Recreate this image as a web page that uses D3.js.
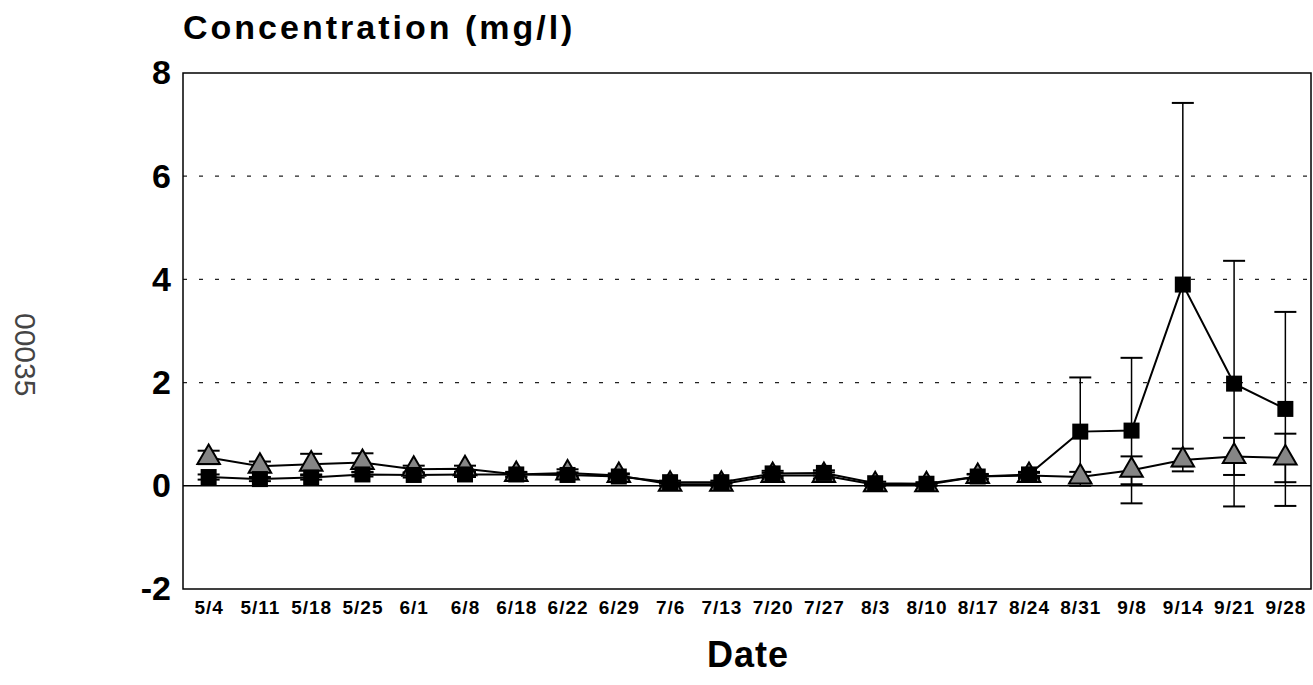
<!DOCTYPE html>
<html>
<head>
<meta charset="utf-8">
<script src="https://cdn.jsdelivr.net/npm/d3@7/dist/d3.min.js"></script>
<style>
  body { margin: 0; background: #fff; }
  text { font-family: "Liberation Sans", Arial, sans-serif; }
</style>
</head>
<body>
<script>
var w = 1313
var h = 685

// dates on the x axis
var dates = ["5/4","5/11","5/18","5/25","6/1","6/8","6/18","6/22","6/29","7/6","7/13",
  "7/20","7/27","8/3","8/10","8/17","8/24","8/31","9/8","9/14","9/21","9/28"];

// square series (mean, sd)
var sqMean = [0.17,0.13,0.16,0.22,0.21,0.22,0.22,0.21,0.18,0.07,0.07,
  0.24,0.25,0.05,0.04,0.18,0.22,1.05,1.07,3.90,1.98,1.49];
var sqSd = [0.05,0.04,0.04,0.04,0.05,0.05,0.04,0.05,0.04,0.03,0.03,
  0.05,0.05,0.03,0.03,0.05,0.05,1.05,1.41,3.52,2.38,1.88];

// triangle series (mean, sd)
var triMean = [0.55,0.38,0.42,0.45,0.32,0.33,0.22,0.25,0.20,0.03,0.03,
  0.20,0.20,0.02,0.02,0.18,0.20,0.17,0.30,0.50,0.57,0.54];
var triSd = [0.13,0.09,0.20,0.18,0.07,0.06,0.05,0.07,0.04,0.03,0.03,
  0.05,0.06,0.02,0.02,0.04,0.05,0.10,0.27,0.22,0.36,0.47];

var yTicks = [-2, 0, 2, 4, 6, 8];
var gridTicks = [2, 4, 6];

var m = {left: 183, right: 2, top: 73, bottom: 96};

var svg = d3.select("body")
  .append("svg")
  .attr("width", w)
  .attr("height", h)

var x = d3.scalePoint()
  .domain(dates)
  .range([m.left, w - m.right])
  .padding(0.5);

var y = d3.scaleLinear()
  .domain([-2, 8])
  .range([h - m.bottom, m.top]);

// grid lines
svg.selectAll(".grid")
  .data(gridTicks)
  .enter().append("line")
  .attr("class", "grid")
  .attr("x1", m.left).attr("x2", w - m.right)
  .attr("y1", d => y(d)).attr("y2", d => y(d))
  .attr("stroke", "#222")
  .attr("stroke-width", 1.3)
  .attr("stroke-dasharray", "4,12");

// zero line
svg.append("line")
  .attr("x1", m.left).attr("x2", w - m.right)
  .attr("y1", y(0)).attr("y2", y(0))
  .attr("stroke", "#000")
  .attr("stroke-width", 1.5);

// frame
svg.append("rect")
  .attr("x", m.left).attr("y", m.top)
  .attr("width", w - m.right - m.left)
  .attr("height", y(-2) - m.top)
  .attr("fill", "none")
  .attr("stroke", "#000")
  .attr("stroke-width", 1.5);

// y axis labels
var yAxis = d3.axisLeft(y).tickValues(yTicks).tickSize(0).tickPadding(12)
  .tickFormat(d => String(d));
var gy = svg.append("g")
  .attr("transform", "translate(" + m.left + ",0)")
  .call(yAxis);
gy.select(".domain").remove();
gy.selectAll("text")
  .attr("font-size", 34)
  .attr("font-weight", "bold")
  .attr("fill", "#000")
  .style("font-family", "'Liberation Sans', Arial, sans-serif");

// x axis labels
var xAxis = d3.axisBottom(x).tickSize(0).tickPadding(12);
var gx = svg.append("g")
  .attr("transform", "translate(0," + y(-2) + ")")
  .call(xAxis);
gx.select(".domain").remove();
gx.selectAll("text")
  .attr("font-size", 19)
  .attr("font-weight", "bold")
  .attr("letter-spacing", 1)
  .attr("fill", "#000")
  .style("font-family", "'Liberation Sans', Arial, sans-serif");

function errBars(mean, sd, cls) {
  var g = svg.append("g").attr("class", cls);
  var bars = g.selectAll("g")
    .data(dates.map((d, i) => ({d: d, m: mean[i], s: sd[i]})))
    .enter().append("g");
  bars.append("line")
    .attr("x1", d => x(d.d)).attr("x2", d => x(d.d))
    .attr("y1", d => y(d.m - d.s)).attr("y2", d => y(d.m + d.s))
    .attr("stroke", "#000").attr("stroke-width", 1.5);
  bars.append("line")
    .attr("x1", d => x(d.d) - 11).attr("x2", d => x(d.d) + 11)
    .attr("y1", d => y(d.m + d.s)).attr("y2", d => y(d.m + d.s))
    .attr("stroke", "#000").attr("stroke-width", 2);
  bars.append("line")
    .attr("x1", d => x(d.d) - 11).attr("x2", d => x(d.d) + 11)
    .attr("y1", d => y(d.m - d.s)).attr("y2", d => y(d.m - d.s))
    .attr("stroke", "#000").attr("stroke-width", 2);
}

var line = d3.line()
  .x((d, i) => x(dates[i]))
  .y(d => y(d));

errBars(triMean, triSd, "tri-err");
errBars(sqMean, sqSd, "sq-err");

svg.append("path")
  .datum(triMean)
  .attr("d", line)
  .attr("fill", "none")
  .attr("stroke", "#000")
  .attr("stroke-width", 2);

svg.append("path")
  .datum(sqMean)
  .attr("d", line)
  .attr("fill", "none")
  .attr("stroke", "#000")
  .attr("stroke-width", 2);

// triangles
var tri = d3.symbol().type(d3.symbolTriangle).size(220);
svg.selectAll(".tri")
  .data(triMean)
  .enter().append("path")
  .attr("class", "tri")
  .attr("d", tri)
  .attr("transform", (d, i) => "translate(" + x(dates[i]) + "," + y(d) + ")")
  .attr("fill", "#858585")
  .attr("stroke", "#000")
  .attr("stroke-width", 2);

// squares
svg.selectAll(".sq")
  .data(sqMean)
  .enter().append("rect")
  .attr("class", "sq")
  .attr("x", (d, i) => x(dates[i]) - 8)
  .attr("y", d => y(d) - 8)
  .attr("width", 16)
  .attr("height", 16)
  .attr("fill", "#000");

// titles
svg.append("text")
  .attr("x", m.left)
  .attr("y", 39)
  .attr("font-size", 34)
  .attr("font-weight", "bold")
  .attr("letter-spacing", 3)
  .text("Concentration  (mg/l)");

svg.append("text")
  .attr("x", 748)
  .attr("y", 667)
  .attr("text-anchor", "middle")
  .attr("font-size", 36)
  .attr("font-weight", "bold")
  .attr("letter-spacing", 1)
  .text("Date");

// page stamp
svg.append("text")
  .attr("transform", "translate(15,313) rotate(90)")
  .attr("font-size", 30)
  .attr("fill", "#444")
  .text("00035");
</script>
</body>
</html>
